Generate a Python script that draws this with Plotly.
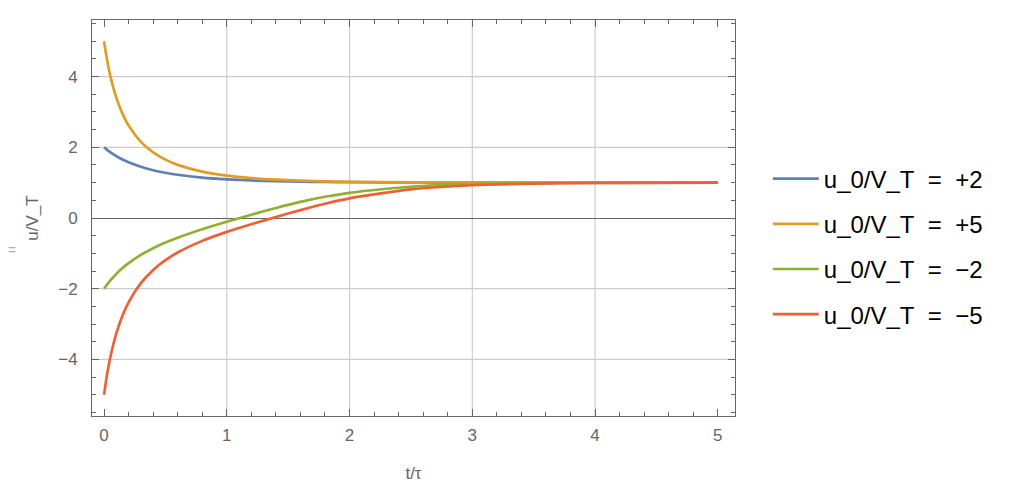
import plotly.graph_objects as go

# sample times (t/tau)
t = [0, 0.02, 0.05, 0.1, 0.15, 0.2, 0.3, 0.4, 0.5, 0.6, 0.8, 1.0, 1.2, 1.4,
     1.6, 1.8, 2.0, 2.5, 3.0, 3.5, 4.0, 4.5, 5.0]

u_plus2 = [2.0, 1.942, 1.864, 1.751, 1.656, 1.575, 1.448, 1.352, 1.280, 1.223,
           1.144, 1.094, 1.062, 1.041, 1.028, 1.018, 1.012, 1.0045, 1.0017,
           1.0006, 1.0002, 1.0001, 1.0]
u_plus5 = [5.0, 4.564, 4.04, 3.404, 2.952, 2.616, 2.154, 1.856, 1.650, 1.502,
           1.311, 1.198, 1.129, 1.084, 1.056, 1.037, 1.025, 1.009, 1.003,
           1.001, 1.0004, 1.0001, 1.0]
u_minus2 = [-2.0, -1.907, -1.774, -1.580, -1.416, -1.277, -1.044, -0.855,
            -0.695, -0.556, -0.317, -0.1075, 0.0926, 0.2848, 0.4565, 0.600,
            0.713, 0.8837, 0.9557, 0.9834, 0.9939, 0.9977, 0.9992]
u_minus5 = [-5.0, -4.529, -3.959, -3.262, -2.763, -2.385, -1.844, -1.468,
            -1.193, -0.976, -0.647, -0.392, -0.175, 0.0266, 0.2228, 0.4024,
            0.5557, 0.8098, 0.9258, 0.972, 0.9896, 0.9961, 0.9986]

series_names = ["u_0/V_T\u00a0\u00a0=\u00a0\u00a0+2", "u_0/V_T\u00a0\u00a0=\u00a0\u00a0+5",
                "u_0/V_T\u00a0\u00a0=\u00a0\u00a0\u22122", "u_0/V_T\u00a0\u00a0=\u00a0\u00a0\u22125"]
series_values = [u_plus2, u_plus5, u_minus2, u_minus5]
colors = ["#5E81B5", "#E19C24", "#8FB032", "#EB6235"]

x_grid = [1, 2, 3, 4]
y_grid = [-4, -2, 2, 4]
x_ticks = [0, 1, 2, 3, 4, 5]
y_ticks = [-4, -2, 0, 2, 4]

fig = go.Figure()
for i, (name, vals, c) in enumerate(zip(series_names, series_values, colors)):
    fig.add_trace(go.Scatter(x=t, y=vals, mode="lines", name=name,
                             line=dict(color=c, width=2.7, shape="spline", smoothing=0.6),
                             legendgroup=f"g{i}"))

grid_color = "#cccccc"
for gx in x_grid:
    fig.add_shape(type="line", xref="x", yref="paper", x0=gx, x1=gx, y0=0, y1=1,
                  line=dict(color=grid_color, width=1.2), layer="below")
for gy in y_grid:
    fig.add_shape(type="line", xref="paper", yref="y", x0=0, x1=1, y0=gy, y1=gy,
                  line=dict(color=grid_color, width=1.2), layer="below")

axis_font = dict(family="Liberation Sans, Arial, sans-serif", size=17, color="#666666")
frame = "#666666"

fig.update_xaxes(range=[-0.098, 5.14], showgrid=False, zeroline=False, automargin=False,
                 tickvals=x_ticks, ticks="inside", ticklen=7, tickcolor=frame,
                 showline=True, linecolor=frame, linewidth=1, mirror="ticks",
                 tickfont=axis_font, ticklabelstandoff=4,
                 minor=dict(dtick=0.2, ticks="inside", ticklen=4, tickcolor=frame, showgrid=False),
                 title=dict(text="t/\u03c4", font=axis_font, standoff=22))
fig.update_yaxes(range=[-5.6, 5.6], showgrid=False, zeroline=True, automargin=False,
                 zerolinecolor=frame, zerolinewidth=1,
                 tickvals=y_ticks, ticks="inside", ticklen=7, tickcolor=frame,
                 showline=True, linecolor=frame, linewidth=1, mirror="ticks",
                 tickfont=axis_font, ticklabelstandoff=10,
                 minor=dict(dtick=0.5, ticks="inside", ticklen=4, tickcolor=frame, showgrid=False),
                 title=dict(text="u/V_T", font=axis_font, standoff=15))

fig.add_annotation(text="=", xref="paper", yref="paper", x=-0.125, y=0.42,
                   showarrow=False, font=dict(family="Liberation Sans, Arial", size=14, color="#aaaaaa"),
                   xanchor="center")

fig.update_layout(
    width=1024, height=496,
    margin=dict(l=84, r=297, t=12, b=88),
    paper_bgcolor="white", plot_bgcolor="white",
    showlegend=True,
    legend=dict(x=1.051, y=0.428, xanchor="left", yanchor="middle",
                font=dict(family="Liberation Sans, Arial, sans-serif", size=24, color="black"),
                itemwidth=46, tracegroupgap=11, bgcolor="rgba(0,0,0,0)"),
)

fig.write_html("out.html")
